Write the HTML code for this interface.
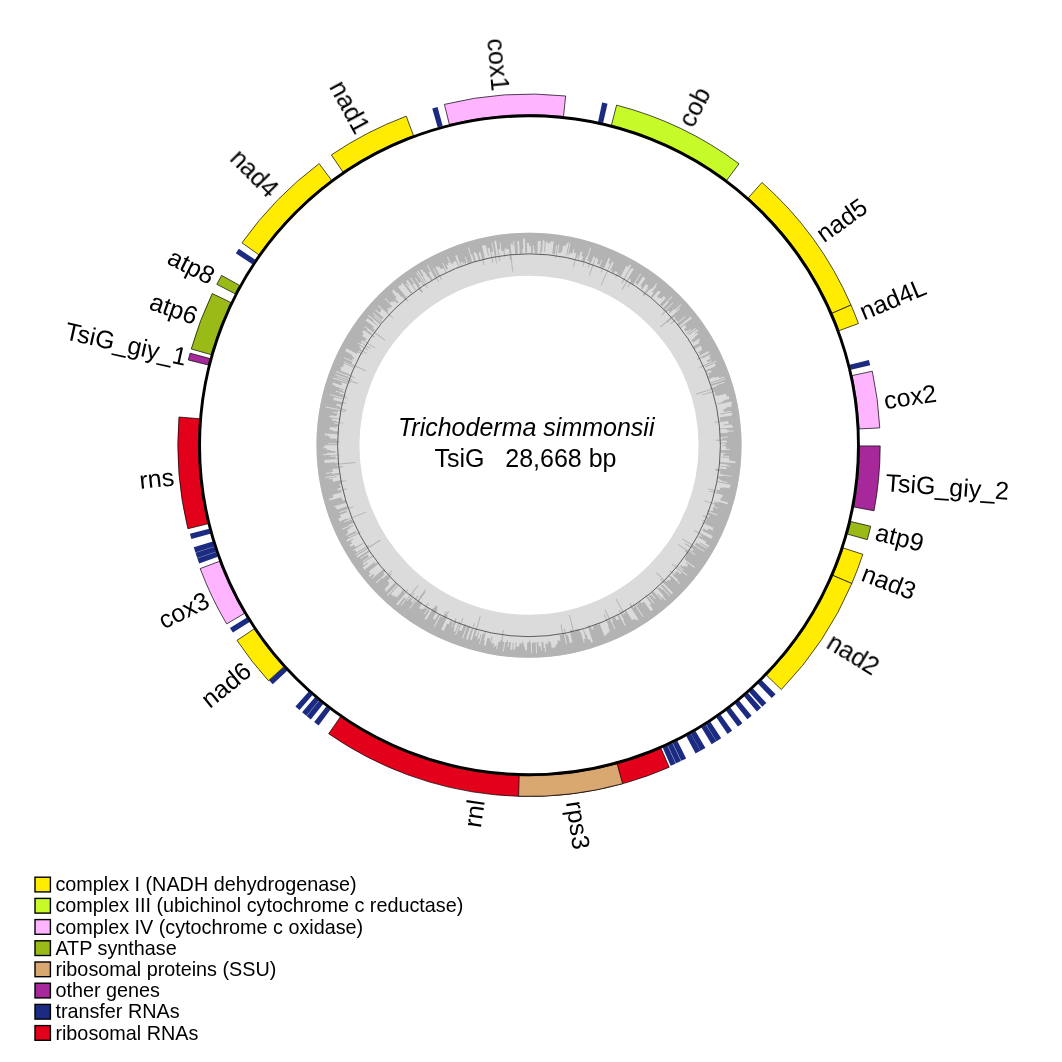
<!DOCTYPE html>
<html><head><meta charset="utf-8"><title>TsiG</title>
<style>html,body{margin:0;padding:0;background:#fff}svg{display:block}text{font-family:"Liberation Sans",sans-serif;fill:#000}</style></head>
<body>
<svg width="1062" height="1062" viewBox="0 0 1062 1062">
<rect width="1062" height="1062" fill="#fff"/>
<circle cx="529.0" cy="445.25" r="191.05" fill="none" stroke="#dbdbdb" stroke-width="42.90"/>
<path fill="#b3b3b3" fill-rule="evenodd" d="M529.00 232.75A212.5 212.5 0 1 1 529.00 657.75A212.5 212.5 0 1 1 529.00 232.75ZM529.0 246.1L529.0 246.1L530.0 246.1L530.0 246.1L530.9 246.1L530.9 252.9L531.8 252.9L531.8 252.8L532.7 252.9L532.9 245.6L533.8 245.6L533.7 250.3L534.7 250.4L534.6 253.3L535.5 253.3L535.5 253.3L536.4 253.3L536.4 253.3L537.4 253.4L537.9 241.0L538.9 241.0L538.9 241.0L539.9 241.1L539.9 241.1L540.9 241.1L540.1 254.2L541.0 254.2L541.2 252.1L542.1 252.1L542.9 239.7L543.9 239.8L543.8 241.2L544.8 241.2L544.0 252.1L544.9 252.2L545.8 241.7L546.7 241.8L546.7 242.0L547.7 242.1L547.5 243.8L548.5 243.9L548.6 242.7L549.6 242.8L549.6 242.8L550.6 242.9L550.8 241.2L551.8 241.3L551.8 241.3L552.8 241.4L552.8 241.4L553.7 241.5L552.2 254.0L553.1 254.1L553.1 254.1L554.1 254.2L554.0 254.4L555.0 254.5L556.2 245.3L557.2 245.4L555.4 257.9L556.3 258.1L558.3 244.4L559.3 244.5L558.1 252.6L559.0 252.7L559.0 252.7L560.0 252.8L560.0 252.8L560.9 253.0L561.1 251.9L562.0 252.1L563.1 245.5L564.1 245.7L564.1 245.7L565.0 245.8L565.0 245.8L566.0 246.0L566.5 243.4L567.5 243.6L567.8 241.8L568.8 241.9L566.2 255.3L567.1 255.5L569.6 242.9L570.6 243.1L568.2 254.6L569.2 254.8L569.6 252.8L570.5 253.0L570.5 253.0L571.4 253.2L571.4 253.2L572.4 253.4L573.3 249.1L574.3 249.3L573.6 252.5L574.5 252.7L574.5 252.7L575.4 252.9L575.4 252.9L576.4 253.1L573.0 266.7L573.9 266.9L576.1 257.9L577.1 258.1L577.9 255.0L578.8 255.2L577.8 258.9L578.7 259.1L580.7 251.6L581.7 251.9L581.7 251.9L582.6 252.1L581.5 256.1L582.4 256.4L582.4 256.4L583.3 256.6L581.9 261.4L582.8 261.7L582.8 261.7L583.7 262.0L582.4 266.4L583.2 266.6L586.4 256.2L587.3 256.4L590.1 247.6L591.0 247.9L587.0 260.7L587.9 261.0L588.0 260.6L588.9 260.9L588.6 261.9L589.5 262.1L587.8 267.1L588.7 267.4L590.5 262.1L591.3 262.4L593.3 256.6L594.3 256.9L594.3 256.9L595.2 257.2L588.8 275.2L589.7 275.4L596.1 257.3L597.1 257.7L596.7 258.7L597.6 259.0L597.6 259.0L598.5 259.4L596.9 263.7L597.7 264.0L597.7 264.0L598.6 264.4L598.6 264.4L599.5 264.7L601.4 259.7L602.3 260.1L599.8 266.4L600.7 266.7L600.7 266.7L601.5 267.1L601.5 267.1L602.4 267.4L600.4 272.2L601.3 272.6L603.4 267.4L604.3 267.7L608.5 257.9L609.4 258.3L609.4 258.3L610.3 258.7L608.4 263.1L609.2 263.5L609.2 263.5L610.1 263.9L600.8 284.7L601.6 285.0L612.1 261.8L613.0 262.2L613.0 262.2L613.9 262.6L610.1 270.8L610.9 271.2L611.5 269.9L612.4 270.3L611.5 272.0L612.4 272.4L612.4 272.4L613.2 272.8L613.2 272.8L614.0 273.2L615.1 271.1L615.9 271.5L615.9 271.5L616.8 271.9L616.8 271.9L617.6 272.4L615.2 277.1L616.0 277.6L618.0 273.7L618.8 274.2L618.3 275.2L619.1 275.6L619.1 275.6L619.9 276.0L619.9 276.0L620.7 276.5L626.3 266.1L627.2 266.6L627.2 266.6L628.1 267.1L629.5 264.6L630.3 265.1L630.3 265.1L631.2 265.6L621.3 282.9L622.1 283.4L630.7 268.5L631.5 269.0L632.0 268.1L632.9 268.6L632.9 268.6L633.7 269.1L621.6 289.6L622.3 290.0L629.1 278.8L629.9 279.3L629.9 279.3L630.7 279.8L630.3 280.4L631.1 280.9L627.5 286.7L628.2 287.2L630.8 283.1L631.6 283.6L631.6 283.6L632.4 284.1L632.4 284.1L633.2 284.6L640.4 273.4L641.2 273.9L635.2 283.1L636.0 283.6L636.0 283.6L636.8 284.1L636.8 284.1L637.6 284.7L643.0 276.6L643.8 277.2L643.8 277.2L644.6 277.8L644.6 277.8L645.4 278.3L640.4 285.6L641.1 286.1L641.1 286.1L641.9 286.6L641.0 287.9L641.8 288.4L641.2 289.2L642.0 289.8L646.1 284.0L646.9 284.6L646.9 284.6L647.7 285.2L647.7 285.2L648.5 285.7L647.2 287.4L648.0 287.9L642.8 294.8L643.5 295.4L643.3 295.7L644.0 296.3L649.3 289.4L650.0 290.0L651.3 288.3L652.1 288.9L656.5 283.3L657.3 284.0L655.5 286.1L656.3 286.7L652.1 291.9L652.9 292.5L652.9 292.5L653.6 293.1L650.8 296.5L651.6 297.1L651.2 297.6L651.9 298.2L658.4 290.4L659.1 291.0L659.1 291.0L659.9 291.6L659.9 291.6L660.6 292.3L657.0 296.5L657.7 297.1L657.4 297.4L658.1 298.1L659.0 297.1L659.7 297.7L659.7 297.7L660.4 298.3L660.4 298.3L661.1 299.0L663.7 296.1L664.4 296.8L664.4 296.8L665.2 297.4L665.2 297.4L665.9 298.1L659.9 304.5L660.6 305.1L660.6 305.1L661.3 305.7L661.3 305.7L662.0 306.4L671.7 296.2L672.4 296.9L667.8 301.7L668.5 302.4L663.1 307.9L663.7 308.5L663.7 308.5L664.4 309.2L663.0 310.6L663.7 311.2L672.6 302.4L673.3 303.1L661.3 314.8L661.9 315.5L665.8 311.7L666.4 312.4L668.4 310.4L669.1 311.1L669.1 311.1L669.7 311.8L668.8 312.7L669.4 313.4L674.0 309.1L674.6 309.8L680.7 304.2L681.4 304.9L676.1 309.8L676.7 310.5L679.4 308.0L680.1 308.8L660.1 326.8L660.7 327.5L666.5 322.3L667.0 323.0L674.0 316.8L674.7 317.5L674.7 317.5L675.3 318.2L675.1 318.3L675.7 319.0L670.4 323.6L671.0 324.3L676.3 319.8L676.9 320.5L676.9 320.5L677.5 321.2L677.5 321.2L678.1 321.9L684.8 316.3L685.5 317.1L677.4 323.6L678.0 324.4L677.5 324.8L678.1 325.5L678.1 325.5L678.6 326.3L690.8 316.6L691.4 317.4L691.4 317.4L692.0 318.2L679.9 327.6L680.5 328.3L684.7 325.1L685.3 325.8L685.3 325.8L685.8 326.6L685.8 326.6L686.4 327.4L683.9 329.2L684.5 330.0L684.5 330.0L685.1 330.7L684.8 330.9L685.4 331.6L687.1 330.4L687.6 331.2L690.5 329.1L691.1 329.8L686.4 333.2L686.9 334.0L695.2 328.1L695.8 328.9L688.4 334.1L688.9 334.9L697.1 329.2L697.6 330.1L697.8 329.9L698.4 330.7L694.9 333.1L695.4 333.9L697.1 332.8L697.6 333.6L697.6 333.6L698.1 334.4L694.6 336.8L695.1 337.6L691.5 339.9L692.0 340.7L692.0 340.7L692.5 341.5L692.3 341.6L692.8 342.4L699.3 338.4L699.8 339.2L699.8 339.2L700.3 340.0L698.2 341.3L698.7 342.1L699.2 341.8L699.6 342.7L692.8 346.8L693.3 347.6L693.3 347.6L693.7 348.4L693.7 348.4L694.2 349.2L700.7 345.4L701.1 346.2L701.1 346.2L701.6 347.1L701.6 347.1L702.1 347.9L701.5 348.2L701.9 349.1L701.3 349.4L701.8 350.3L697.6 352.5L698.1 353.4L699.1 352.8L699.6 353.6L699.7 353.5L700.2 354.3L698.7 355.1L699.2 355.9L708.4 351.1L708.8 352.0L708.8 352.0L709.3 352.8L697.0 359.1L697.4 360.0L702.1 357.6L702.5 358.4L710.2 354.5L710.7 355.4L709.1 356.2L709.5 357.1L709.5 357.1L709.9 358.0L710.4 357.7L710.9 358.6L706.8 360.5L707.2 361.4L707.2 361.4L707.6 362.2L711.6 360.4L712.0 361.3L699.2 367.2L699.6 368.0L716.3 360.4L716.8 361.3L705.0 366.5L705.4 367.4L715.0 363.2L715.4 364.1L715.4 364.1L715.8 365.0L715.0 365.3L715.3 366.2L705.4 370.4L705.7 371.3L705.7 371.3L706.1 372.1L710.9 370.2L711.2 371.0L711.2 371.0L711.6 371.9L706.9 373.8L707.3 374.7L708.6 374.2L708.9 375.0L708.9 375.0L709.2 375.9L708.0 376.4L708.3 377.3L708.3 377.3L708.6 378.1L708.6 378.1L708.9 379.0L714.5 376.9L714.9 377.8L718.7 376.4L719.0 377.4L719.0 377.4L719.3 378.3L724.0 376.6L724.4 377.6L710.2 382.5L710.5 383.4L725.1 378.4L725.5 379.3L711.0 384.2L711.3 385.1L711.3 385.1L711.5 385.9L724.2 381.8L724.5 382.8L716.8 385.2L717.1 386.1L710.0 388.4L710.3 389.2L696.2 393.6L696.4 394.4L713.3 389.3L713.5 390.2L713.5 390.2L713.8 391.1L702.2 394.5L702.5 395.3L714.7 391.8L715.0 392.7L715.0 392.7L715.2 393.6L715.2 393.6L715.5 394.5L714.5 394.8L714.7 395.7L716.6 395.1L716.8 396.1L726.0 393.7L726.3 394.6L726.3 394.6L726.5 395.6L726.5 395.6L726.7 396.5L728.7 396.0L728.9 397.0L728.9 397.0L729.1 398.0L729.1 398.0L729.4 398.9L723.8 400.2L724.0 401.2L721.4 401.7L721.6 402.7L717.3 403.6L717.5 404.5L731.6 401.5L731.9 402.5L731.9 402.5L732.1 403.5L731.2 403.6L731.4 404.6L731.4 404.6L731.6 405.6L731.6 405.6L731.8 406.6L726.2 407.6L726.4 408.6L723.3 409.2L723.5 410.1L723.5 410.1L723.7 411.0L723.7 411.0L723.8 412.0L730.8 410.8L731.0 411.8L720.1 413.6L720.3 414.5L731.7 412.6L731.8 413.6L731.8 413.6L732.0 414.6L732.0 414.6L732.1 415.6L720.1 417.3L720.2 418.3L719.9 418.3L720.0 419.2L720.0 419.2L720.2 420.2L720.2 420.2L720.3 421.1L714.1 421.9L714.2 422.8L728.3 421.1L728.4 422.0L728.4 422.0L728.5 423.0L728.5 423.0L728.6 423.9L723.5 424.5L723.6 425.4L732.0 424.6L732.1 425.6L732.1 425.6L732.2 426.5L733.4 426.4L733.5 427.4L718.4 428.7L718.5 429.6L726.3 429.0L726.4 430.0L728.7 429.8L728.7 430.7L733.6 430.4L733.7 431.4L727.6 431.8L727.7 432.8L719.9 433.2L719.9 434.2L719.9 434.2L720.0 435.1L720.0 435.1L720.0 436.0L720.0 436.0L720.1 436.9L728.0 436.6L728.1 437.5L721.8 437.8L721.8 438.7L722.0 438.7L722.1 439.6L715.8 439.8L715.9 440.7L726.5 440.5L726.5 441.4L727.0 441.4L727.0 442.4L720.1 442.5L720.1 443.4L725.2 443.4L725.2 444.3L725.2 444.3L725.2 445.2L722.1 445.2L722.1 446.2L726.3 446.2L726.3 447.2L726.3 447.2L726.3 448.1L726.3 448.1L726.3 449.1L730.0 449.1L730.0 450.1L720.8 449.9L720.8 450.8L720.8 450.8L720.7 451.7L720.7 451.7L720.7 452.7L725.3 452.8L725.3 453.8L723.2 453.7L723.1 454.6L723.1 454.6L723.1 455.6L729.0 455.9L729.0 456.9L722.1 456.5L722.1 457.4L729.1 457.8L729.1 458.8L729.1 458.8L729.0 459.8L730.3 459.9L730.2 460.8L735.4 461.2L735.3 462.2L735.3 462.2L735.3 463.2L719.5 461.9L719.4 462.8L719.4 462.8L719.3 463.7L727.4 464.5L727.3 465.4L730.2 465.7L730.1 466.7L720.3 465.7L720.2 466.6L726.5 467.3L726.4 468.2L726.4 468.2L726.3 469.2L720.6 468.5L720.5 469.4L715.0 468.7L714.9 469.6L715.7 469.8L715.6 470.7L720.4 471.3L720.3 472.2L720.3 472.2L720.1 473.2L720.1 473.2L720.0 474.1L731.8 475.9L731.7 476.8L722.6 475.4L722.4 476.4L718.5 475.7L718.4 476.7L718.4 476.7L718.2 477.6L718.2 477.6L718.1 478.5L719.9 478.8L719.7 479.7L721.7 480.1L721.6 481.0L727.6 482.1L727.4 483.1L716.7 481.1L716.5 482.0L730.8 484.8L730.6 485.7L730.2 485.6L730.0 486.6L730.0 486.6L729.8 487.6L729.8 487.6L729.6 488.6L723.4 487.2L723.2 488.2L720.3 487.5L720.1 488.5L720.1 488.5L719.9 489.4L719.9 489.4L719.7 490.3L716.6 489.6L716.4 490.5L707.9 488.4L707.7 489.3L717.1 491.6L716.9 492.5L709.6 490.7L709.4 491.6L722.8 495.0L722.6 496.0L722.6 496.0L722.3 496.9L722.3 496.9L722.1 497.8L721.0 497.5L720.7 498.4L720.7 498.4L720.4 499.4L720.4 499.4L720.2 500.3L728.0 502.5L727.7 503.5L727.7 503.5L727.5 504.5L718.5 501.8L718.2 502.7L714.5 501.6L714.2 502.5L714.5 502.6L714.2 503.5L703.8 500.2L703.6 501.0L714.7 504.6L714.5 505.5L714.5 505.5L714.2 506.4L718.7 507.9L718.4 508.8L713.3 507.1L713.0 508.0L713.1 508.0L712.8 508.9L713.3 509.1L713.0 510.0L713.0 510.0L712.7 510.9L711.5 510.5L711.2 511.3L707.1 509.9L706.8 510.7L717.5 514.6L717.1 515.6L708.0 512.2L707.7 513.0L707.7 513.0L707.4 513.9L708.0 514.1L707.7 515.0L709.6 515.7L709.3 516.6L709.3 516.6L708.9 517.5L703.0 515.1L702.7 516.0L705.6 517.1L705.2 518.0L706.9 518.7L706.6 519.6L706.6 519.6L706.2 520.4L706.2 520.4L705.9 521.3L702.4 519.8L702.1 520.6L705.6 522.2L705.2 523.0L702.7 521.9L702.3 522.7L713.4 527.7L713.0 528.6L713.0 528.6L712.6 529.5L713.4 529.9L713.0 530.8L708.4 528.6L708.0 529.5L708.0 529.5L707.6 530.4L703.5 528.4L703.1 529.2L703.1 529.2L702.7 530.1L703.1 530.3L702.6 531.1L712.7 536.1L712.3 537.0L712.3 537.0L711.9 537.9L711.9 537.9L711.4 538.7L694.2 529.9L693.8 530.7L700.9 534.4L700.5 535.2L702.3 536.2L701.8 537.0L699.2 535.6L698.7 536.4L698.7 536.4L698.3 537.3L706.4 541.7L705.9 542.5L705.9 542.5L705.5 543.4L709.4 545.6L708.9 546.5L708.9 546.5L708.5 547.3L699.9 542.4L699.4 543.3L707.5 547.9L707.0 548.8L696.2 542.5L695.7 543.3L695.7 543.3L695.3 544.1L695.3 544.1L694.8 544.9L704.7 550.9L704.2 551.7L682.7 538.7L682.2 539.4L692.2 545.5L691.7 546.3L691.7 546.3L691.2 547.1L685.2 543.3L684.7 544.1L693.7 549.7L693.1 550.5L693.1 550.5L692.6 551.3L688.9 548.9L688.4 549.7L695.8 554.5L695.2 555.3L678.2 544.1L677.8 544.8L686.0 550.3L685.5 551.0L685.1 550.8L684.6 551.6L687.2 553.3L686.7 554.1L686.7 554.1L686.2 554.9L686.2 554.9L685.7 555.6L686.1 555.9L685.5 556.7L685.5 556.7L685.0 557.4L685.5 557.8L685.0 558.6L685.3 558.8L684.7 559.5L695.0 567.1L694.4 567.9L686.4 561.9L685.8 562.7L688.1 564.4L687.6 565.2L687.6 565.2L687.0 566.0L687.7 566.5L687.1 567.3L684.7 565.4L684.1 566.2L684.1 566.2L683.5 566.9L681.0 564.9L680.4 565.6L680.4 565.6L679.8 566.4L683.6 569.4L683.0 570.2L675.9 564.4L675.3 565.1L687.4 575.0L686.8 575.8L672.0 563.6L671.5 564.3L681.6 572.8L681.0 573.5L681.0 573.5L680.4 574.2L676.6 571.0L676.0 571.7L676.0 571.7L675.4 572.4L675.4 572.4L674.7 573.1L675.6 573.9L675.0 574.6L670.0 570.2L669.4 570.9L673.5 574.5L672.8 575.2L678.0 579.8L677.3 580.5L680.2 583.2L679.5 583.9L671.0 576.0L670.4 576.7L668.3 574.8L667.7 575.5L671.2 578.8L670.6 579.5L670.6 579.5L669.9 580.2L669.9 580.2L669.3 580.9L668.1 579.8L667.5 580.4L667.5 580.4L666.8 581.1L666.8 581.1L666.2 581.8L656.7 572.3L656.1 572.9L663.9 580.8L663.2 581.4L660.7 578.8L660.0 579.5L673.0 592.8L672.3 593.5L672.3 593.5L671.6 594.2L662.3 584.5L661.6 585.1L661.6 585.1L660.9 585.7L670.0 595.4L669.3 596.1L663.1 589.4L662.4 590.1L659.9 587.3L659.2 588.0L659.2 588.0L658.5 588.6L656.7 586.7L656.1 587.3L663.6 595.7L662.9 596.3L665.9 599.8L665.2 600.5L662.7 597.7L662.0 598.3L657.9 593.6L657.1 594.2L662.1 600.0L661.4 600.6L653.6 591.5L652.9 592.1L652.6 591.8L651.9 592.3L651.9 592.3L651.2 592.9L655.8 598.6L655.1 599.2L651.6 595.0L650.9 595.5L650.3 594.8L649.6 595.4L649.3 595.0L648.5 595.6L654.5 603.1L653.8 603.7L648.0 596.4L647.3 597.0L645.9 595.2L645.1 595.7L651.3 603.7L650.5 604.3L650.5 604.3L649.7 604.8L653.2 609.5L652.4 610.1L652.4 610.1L651.6 610.7L651.6 610.7L650.8 611.3L643.9 601.8L643.1 602.3L643.1 602.3L642.4 602.9L642.4 602.9L641.6 603.4L640.1 601.3L639.4 601.9L639.4 601.9L638.6 602.4L638.6 602.4L637.8 602.9L638.6 604.0L637.8 604.5L637.8 604.5L637.0 605.0L636.1 603.7L635.4 604.2L643.7 616.7L642.9 617.3L633.7 603.4L633.0 603.9L634.5 606.2L633.7 606.7L634.2 607.5L633.4 608.0L630.1 602.9L629.3 603.4L630.8 605.6L630.0 606.1L638.8 620.1L638.0 620.7L637.0 619.2L636.2 619.7L636.2 619.7L635.3 620.2L634.5 618.8L633.7 619.3L633.7 619.3L632.8 619.8L632.8 619.8L632.0 620.3L625.8 609.9L625.0 610.4L625.0 610.4L624.2 610.8L625.7 613.3L624.9 613.8L616.3 598.8L615.6 599.2L624.2 614.5L623.3 614.9L621.5 611.5L620.7 612.0L619.5 609.8L618.7 610.3L624.2 620.4L623.3 620.8L625.8 625.4L624.9 625.9L619.1 614.9L618.3 615.3L618.3 615.3L617.4 615.8L619.2 619.1L618.3 619.5L618.3 619.5L617.5 619.9L617.5 619.9L616.6 620.3L614.9 616.8L614.0 617.2L614.0 617.2L613.2 617.6L613.5 618.3L612.7 618.7L612.2 617.7L611.4 618.1L613.0 621.6L612.2 622.0L615.6 629.2L614.7 629.6L605.2 609.1L604.4 609.5L609.2 620.0L608.3 620.4L608.3 620.4L607.5 620.8L604.5 614.0L603.7 614.4L608.7 625.9L607.9 626.3L609.9 631.0L609.0 631.4L609.4 632.2L608.5 632.6L608.5 632.6L607.6 633.0L607.6 633.0L606.7 633.4L607.2 634.8L606.3 635.1L606.3 635.1L605.4 635.5L605.4 635.5L604.5 635.9L599.3 622.8L598.4 623.1L599.0 624.5L598.1 624.8L598.1 624.8L597.2 625.1L596.7 623.7L595.8 624.0L595.8 624.0L594.9 624.3L594.9 624.3L594.1 624.7L594.5 625.7L593.6 626.0L593.6 626.0L592.7 626.3L593.7 629.1L592.8 629.5L592.8 629.5L591.9 629.8L590.8 626.6L590.0 626.9L589.4 625.2L588.5 625.5L588.5 625.5L587.7 625.8L592.9 642.0L592.0 642.3L592.0 642.3L591.0 642.6L590.0 639.2L589.0 639.5L589.0 639.5L588.1 639.8L586.4 634.4L585.5 634.7L584.0 629.7L583.1 629.9L585.7 638.7L584.8 639.0L584.8 639.0L583.8 639.2L584.7 642.4L583.8 642.7L580.9 632.2L580.0 632.4L579.1 629.1L578.2 629.4L578.2 629.4L577.3 629.6L577.3 629.6L576.4 629.8L576.2 629.1L575.3 629.3L575.8 631.3L574.9 631.5L574.9 631.5L574.0 631.7L570.0 615.0L569.1 615.2L572.6 630.0L571.8 630.2L571.7 630.1L570.8 630.3L570.8 630.3L569.9 630.5L572.5 642.3L571.6 642.5L571.6 642.5L570.6 642.7L570.6 642.7L569.7 642.9L568.0 634.9L567.1 635.1L567.1 635.1L566.2 635.3L564.9 628.6L564.0 628.8L567.0 644.2L566.0 644.4L563.8 632.7L562.9 632.8L561.4 624.3L560.5 624.4L562.3 634.6L561.4 634.7L561.4 634.7L560.4 634.9L560.4 634.9L559.5 635.0L560.5 641.0L559.5 641.1L559.4 640.2L558.5 640.4L558.5 640.4L557.5 640.5L557.9 643.2L556.9 643.3L557.2 645.0L556.2 645.1L556.2 645.1L555.3 645.3L555.5 647.5L554.6 647.6L554.5 647.5L553.6 647.6L553.6 647.6L552.6 647.7L552.6 647.7L551.6 647.8L551.0 642.4L550.1 642.5L549.9 641.2L549.0 641.3L549.0 641.3L548.0 641.4L548.3 643.9L547.3 644.0L547.3 644.0L546.3 644.1L546.3 643.1L545.3 643.2L546.0 652.2L545.0 652.2L544.7 647.9L543.7 648.0L543.3 642.0L542.3 642.1L542.3 641.6L541.4 641.6L541.9 650.3L540.9 650.3L540.7 646.3L539.7 646.4L539.7 646.4L538.7 646.4L538.5 642.3L537.6 642.4L537.6 642.1L536.6 642.1L537.0 652.9L536.0 652.9L535.7 642.3L534.7 642.4L534.7 642.4L533.8 642.4L533.8 642.4L532.8 642.4L532.8 643.0L531.9 643.0L532.0 652.9L531.0 653.0L530.9 642.3L530.0 642.3L529.9 640.7L529.0 640.7L529.0 642.6L528.0 642.6L528.0 642.7L527.1 642.7L527.0 650.2L526.0 650.2L526.0 650.2L525.0 650.2L525.1 647.0L524.1 647.0L524.2 644.5L523.2 644.5L523.3 641.6L522.4 641.6L522.3 643.4L521.3 643.4L521.3 643.4L520.4 643.3L520.4 643.3L519.4 643.3L519.3 646.7L518.3 646.6L518.3 646.6L517.3 646.6L517.3 646.6L516.3 646.5L516.6 642.7L515.6 642.6L515.2 649.5L514.2 649.4L514.2 649.4L513.2 649.3L513.7 642.8L512.7 642.7L512.2 649.7L511.2 649.7L511.2 649.7L510.2 649.6L510.9 642.3L509.9 642.2L509.9 642.2L508.9 642.1L508.5 647.0L507.5 646.9L508.2 639.8L507.3 639.7L507.0 642.2L506.1 642.1L506.1 642.1L505.1 642.0L503.9 651.6L502.9 651.5L504.2 641.8L503.2 641.7L503.2 641.7L502.3 641.6L503.8 630.2L502.9 630.1L501.5 640.1L500.6 640.0L500.3 642.1L499.3 641.9L499.3 641.9L498.4 641.8L497.2 649.2L496.2 649.0L496.8 645.6L495.8 645.4L495.8 645.7L494.8 645.6L494.5 647.3L493.5 647.2L494.2 643.5L493.2 643.3L493.2 643.6L492.2 643.4L492.2 643.4L491.2 643.2L492.5 636.7L491.6 636.5L490.6 641.5L489.6 641.3L490.2 638.7L489.2 638.5L489.2 638.5L488.3 638.3L488.3 638.3L487.4 638.1L485.7 645.6L484.8 645.4L484.8 645.4L483.8 645.2L484.8 640.8L483.9 640.6L486.1 631.0L485.2 630.8L484.4 634.1L483.5 633.8L483.5 633.8L482.6 633.6L479.9 644.3L479.0 644.1L481.4 634.4L480.5 634.2L479.3 638.7L478.4 638.5L478.1 639.6L477.2 639.4L479.3 631.5L478.4 631.2L476.9 636.4L476.0 636.2L476.0 636.2L475.1 635.9L480.8 615.9L479.9 615.7L476.2 628.6L475.3 628.3L471.9 640.0L471.0 639.8L471.0 639.8L470.0 639.5L474.9 623.6L474.0 623.3L472.1 629.6L471.2 629.3L467.9 639.8L466.9 639.5L466.9 639.5L466.0 639.2L470.4 625.5L469.6 625.2L468.9 627.3L468.0 627.0L468.1 626.6L467.3 626.3L463.1 638.5L462.1 638.2L466.7 625.0L465.9 624.7L465.9 624.7L465.0 624.4L465.0 624.4L464.1 624.1L461.6 631.1L460.7 630.8L460.7 630.8L459.8 630.5L459.8 630.5L458.9 630.2L463.5 618.0L462.7 617.7L456.0 635.0L455.1 634.7L460.1 621.8L459.2 621.5L455.1 631.8L454.2 631.4L454.2 631.4L453.4 631.1L454.6 627.9L453.7 627.6L456.5 620.9L455.7 620.5L456.5 618.5L455.7 618.1L451.9 627.1L451.0 626.7L453.0 622.1L452.1 621.8L452.1 621.8L451.2 621.4L451.6 620.7L450.7 620.3L448.8 624.5L448.0 624.1L448.0 624.1L447.1 623.7L443.9 630.8L443.0 630.4L443.0 630.4L442.1 630.0L442.1 630.0L441.2 629.5L447.7 615.8L446.9 615.4L449.0 611.2L448.2 610.8L446.3 614.6L445.5 614.2L446.7 611.7L445.9 611.3L442.8 617.4L442.0 617.0L442.0 617.0L441.2 616.6L441.2 616.6L440.4 616.2L434.6 627.2L433.7 626.8L439.8 615.1L439.0 614.7L439.0 614.7L438.2 614.2L435.2 619.8L434.4 619.4L434.4 619.4L433.5 618.9L433.5 618.9L432.7 618.5L437.5 609.8L436.7 609.4L437.9 607.3L437.1 606.8L437.3 606.5L436.5 606.1L436.8 605.5L436.0 605.1L434.4 607.9L433.6 607.4L426.2 620.1L425.3 619.6L425.3 619.6L424.5 619.1L429.4 610.9L428.6 610.5L429.4 609.2L428.6 608.7L424.9 614.6L424.1 614.1L428.2 607.5L427.4 607.0L426.1 609.1L425.3 608.6L429.0 602.8L428.2 602.4L423.8 609.2L423.0 608.7L423.0 608.7L422.3 608.2L421.4 609.6L420.6 609.0L420.6 609.0L419.8 608.5L419.8 608.5L419.0 608.0L422.3 603.1L421.5 602.6L421.5 602.6L420.7 602.1L420.7 602.2L419.9 601.6L419.9 601.6L419.2 601.1L425.5 592.1L424.8 591.6L426.1 589.8L425.4 589.3L416.2 602.1L415.4 601.6L410.2 608.8L409.4 608.2L418.2 596.2L417.5 595.6L412.4 602.5L411.7 601.9L411.7 601.9L410.9 601.3L413.6 597.7L412.9 597.2L411.4 599.2L410.6 598.6L414.7 593.3L414.0 592.7L407.6 600.9L406.9 600.3L418.8 585.2L418.1 584.7L401.4 605.7L400.7 605.0L406.0 598.4L405.2 597.8L405.2 597.8L404.5 597.2L397.8 605.4L397.0 604.8L397.0 604.8L396.3 604.1L408.5 589.5L407.8 588.9L404.5 592.8L403.8 592.2L405.0 590.8L404.3 590.2L404.3 590.2L403.6 589.6L396.8 597.5L396.0 596.8L396.0 596.8L395.3 596.2L395.3 596.2L394.6 595.5L393.7 596.4L393.0 595.8L393.0 595.8L392.3 595.1L392.2 595.2L391.5 594.6L391.5 594.6L390.7 593.9L398.3 585.8L397.6 585.2L387.6 595.9L386.8 595.2L397.1 584.3L396.5 583.7L396.5 583.7L395.8 583.0L395.8 583.0L395.1 582.4L386.0 591.7L385.3 591.0L385.3 591.0L384.6 590.3L385.6 589.3L384.9 588.6L389.0 584.5L388.4 583.9L389.3 582.9L388.7 582.2L388.7 582.2L388.0 581.6L388.0 581.6L387.3 580.9L390.1 578.2L389.5 577.5L390.0 577.0L389.4 576.4L391.6 574.3L391.0 573.6L387.8 576.5L387.2 575.8L392.4 571.1L391.8 570.4L383.1 578.4L382.4 577.7L376.3 583.2L375.6 582.5L384.5 574.5L383.9 573.8L383.9 573.8L383.3 573.1L385.4 571.3L384.7 570.6L385.5 569.9L384.9 569.2L383.6 570.3L383.0 569.6L372.2 578.8L371.6 578.1L374.5 575.6L373.9 574.9L373.9 574.9L373.2 574.1L369.7 577.0L369.1 576.2L369.1 576.2L368.5 575.5L370.6 573.8L369.9 573.0L369.9 573.0L369.3 572.2L369.3 572.2L368.7 571.4L378.9 563.5L378.3 562.7L378.3 562.7L377.7 562.0L375.5 563.7L375.0 562.9L375.0 562.9L374.4 562.2L364.1 570.0L363.5 569.2L364.0 568.8L363.4 568.0L363.4 568.0L362.8 567.2L368.0 563.4L367.4 562.6L363.8 565.2L363.3 564.4L363.3 564.4L362.7 563.6L372.9 556.4L372.4 555.6L363.2 562.0L362.7 561.2L368.9 556.9L368.3 556.1L368.3 556.1L367.8 555.4L367.8 555.4L367.3 554.6L360.6 559.1L360.1 558.3L370.2 551.5L369.7 550.7L369.7 550.7L369.2 550.0L357.6 557.6L357.0 556.7L357.0 556.7L356.5 555.9L380.7 540.4L380.3 539.6L355.8 555.1L355.3 554.3L369.1 545.7L368.6 544.9L356.6 552.3L356.1 551.5L356.1 551.5L355.6 550.7L355.6 550.7L355.0 549.8L353.1 551.0L352.6 550.2L363.4 543.7L362.9 542.9L355.8 547.1L355.3 546.3L354.9 546.5L354.4 545.7L354.4 545.7L353.9 544.9L350.5 546.8L350.0 545.9L350.0 545.9L349.5 545.0L352.1 543.6L351.7 542.7L351.7 542.7L351.2 541.9L351.2 541.9L350.7 541.0L353.2 539.7L352.7 538.8L347.2 541.8L346.7 540.9L346.7 540.9L346.2 540.0L360.7 532.5L360.3 531.7L348.9 537.6L348.4 536.7L356.7 532.5L356.3 531.7L356.3 531.7L355.9 530.9L346.1 535.7L345.7 534.8L347.7 533.8L347.3 532.9L348.1 532.5L347.7 531.6L347.7 531.6L347.3 530.8L347.3 530.8L346.9 529.9L350.2 528.3L349.8 527.5L353.3 525.9L352.9 525.0L342.5 529.7L342.1 528.8L349.3 525.6L348.9 524.8L354.3 522.4L353.9 521.5L352.9 522.0L352.6 521.1L352.6 521.1L352.2 520.2L352.1 520.3L351.7 519.4L344.5 522.4L344.2 521.6L366.5 512.3L366.2 511.5L346.9 519.4L346.6 518.5L339.5 521.4L339.1 520.4L339.1 520.4L338.7 519.5L338.7 519.5L338.4 518.6L341.0 517.6L340.7 516.7L340.7 516.7L340.3 515.8L340.3 515.8L340.0 514.8L347.2 512.2L346.8 511.3L347.0 511.3L346.6 510.4L339.7 512.9L339.4 512.0L353.5 507.0L353.2 506.2L347.4 508.2L347.1 507.3L348.1 506.9L347.8 506.1L336.8 509.7L336.5 508.8L336.5 508.8L336.2 507.9L336.2 507.9L335.9 507.0L334.2 507.5L333.9 506.6L346.7 502.5L346.4 501.7L346.4 501.7L346.2 500.8L346.2 500.8L345.9 499.9L343.3 500.7L343.0 499.8L342.4 500.0L342.1 499.1L342.1 499.1L341.8 498.2L341.8 498.2L341.6 497.3L329.5 500.6L329.3 499.6L329.3 499.6L329.0 498.7L333.2 497.5L333.0 496.6L333.0 496.6L332.7 495.6L332.7 495.6L332.5 494.7L341.4 492.5L341.2 491.6L341.2 491.6L340.9 490.6L346.9 489.2L346.7 488.3L337.8 490.4L337.6 489.5L337.6 489.5L337.4 488.6L340.8 487.8L340.6 486.9L341.0 486.8L340.8 485.9L339.9 486.1L339.7 485.2L339.7 485.2L339.5 484.3L341.1 483.9L340.9 483.0L341.5 482.9L341.4 482.0L346.2 481.0L346.0 480.2L342.3 480.9L342.1 480.0L332.9 481.7L332.7 480.7L332.7 480.7L332.5 479.8L332.5 479.8L332.4 478.8L329.1 479.4L328.9 478.4L336.6 477.1L336.5 476.2L325.3 478.0L325.2 477.0L339.5 474.8L339.3 473.9L339.8 473.8L339.6 472.9L332.0 474.0L331.8 473.1L326.1 473.9L326.0 472.9L332.7 472.0L332.6 471.0L332.6 471.0L332.4 470.1L332.4 470.1L332.3 469.1L339.3 468.3L339.2 467.4L342.9 466.9L342.8 466.0L337.7 466.6L337.6 465.7L336.8 465.8L336.7 464.8L355.6 462.9L355.5 462.1L339.6 463.6L339.5 462.7L335.3 463.1L335.2 462.2L324.6 463.1L324.5 462.1L324.5 462.1L324.4 461.1L324.4 461.1L324.3 460.1L337.9 459.1L337.9 458.2L335.6 458.4L335.5 457.4L335.5 457.4L335.4 456.5L330.4 456.8L330.3 455.8L339.6 455.3L339.6 454.4L322.9 455.2L322.9 454.2L327.0 454.0L327.0 453.1L335.5 452.7L335.5 451.8L335.5 451.8L335.4 450.9L330.7 451.0L330.7 450.0L326.9 450.1L326.8 449.2L326.8 449.2L326.8 448.2L323.2 448.2L323.1 447.2L324.6 447.2L324.6 446.2L324.6 446.2L324.6 445.3L337.5 445.3L337.5 444.3L327.9 444.3L327.9 443.3L337.8 443.4L337.8 442.5L339.6 442.5L339.6 441.6L337.6 441.5L337.6 440.6L336.2 440.6L336.3 439.7L336.7 439.7L336.7 438.7L329.8 438.5L329.8 437.5L329.8 437.5L329.8 436.6L328.1 436.5L328.2 435.5L324.7 435.4L324.7 434.4L324.7 434.4L324.8 433.4L338.0 434.2L338.0 433.2L338.0 433.2L338.1 432.3L338.1 432.3L338.1 431.4L332.6 431.0L332.7 430.0L329.6 429.8L329.7 428.8L329.7 428.8L329.8 427.9L329.8 427.9L329.9 426.9L336.5 427.5L336.5 426.6L338.4 426.8L338.5 425.8L338.1 425.8L338.2 424.9L337.9 424.9L338.0 423.9L334.5 423.5L334.6 422.6L343.2 423.6L343.3 422.7L336.9 421.9L337.0 421.0L332.2 420.4L332.3 419.4L331.5 419.3L331.6 418.4L340.7 419.6L340.8 418.7L329.1 417.0L329.2 416.1L330.6 416.3L330.7 415.3L336.3 416.2L336.4 415.2L337.1 415.3L337.2 414.4L337.2 414.4L337.4 413.5L333.1 412.8L333.2 411.8L337.8 412.6L337.9 411.7L337.9 411.7L338.1 410.7L345.4 412.1L345.6 411.2L325.5 407.5L325.7 406.5L346.3 410.4L346.5 409.5L339.9 408.2L340.1 407.3L340.1 407.3L340.3 406.4L336.2 405.6L336.4 404.6L336.3 404.6L336.5 403.7L342.2 404.9L342.4 404.0L342.4 404.0L342.6 403.1L346.1 403.9L346.3 403.0L333.2 400.0L333.5 399.1L333.5 399.1L333.7 398.1L333.7 398.1L333.9 397.2L342.5 399.3L342.8 398.4L329.9 395.1L330.1 394.2L347.3 398.6L347.5 397.7L342.9 396.5L343.1 395.6L346.1 396.4L346.3 395.5L339.8 393.7L340.1 392.8L335.9 391.7L336.1 390.7L343.7 392.9L344.0 392.0L343.0 391.7L343.3 390.8L339.4 389.7L339.7 388.8L343.4 389.9L343.7 389.0L334.8 386.3L335.1 385.4L332.3 384.5L332.6 383.5L332.6 383.5L332.9 382.6L341.6 385.4L341.9 384.5L341.9 384.5L342.2 383.6L340.8 383.1L341.1 382.2L346.6 384.0L346.9 383.1L332.8 378.4L333.2 377.4L349.9 383.2L350.2 382.3L336.8 377.6L337.1 376.7L357.4 383.9L357.7 383.1L335.2 374.9L335.5 374.0L352.1 380.1L352.4 379.3L348.4 377.8L348.8 376.9L335.9 372.0L336.2 371.1L354.5 378.1L354.8 377.3L349.3 375.1L349.6 374.2L340.4 370.6L340.7 369.7L340.7 369.7L341.1 368.7L340.4 368.5L340.8 367.6L340.8 367.6L341.2 366.7L342.8 367.3L343.2 366.4L342.9 366.3L343.2 365.4L343.2 365.4L343.6 364.5L343.6 364.5L344.0 363.6L353.9 368.0L354.3 367.1L343.6 362.3L344.0 361.5L365.8 371.3L366.2 370.6L351.6 363.8L351.9 363.0L351.9 363.0L352.3 362.1L343.9 358.1L344.3 357.2L352.4 361.1L352.8 360.3L351.9 359.8L352.3 359.0L353.6 359.6L354.0 358.7L354.0 358.7L354.4 357.9L352.5 356.9L353.0 356.1L351.3 355.2L351.7 354.4L345.1 351.0L345.5 350.1L345.5 350.1L346.0 349.2L346.0 349.2L346.4 348.3L356.9 353.9L357.3 353.0L357.3 353.0L357.8 352.2L362.3 354.7L362.7 353.8L358.6 351.6L359.1 350.8L361.0 351.8L361.4 351.0L366.2 353.7L366.6 352.9L360.5 349.4L360.9 348.6L359.2 347.6L359.7 346.8L359.2 346.5L359.7 345.7L367.6 350.3L368.0 349.5L357.5 343.3L358.0 342.5L360.5 343.9L361.0 343.1L370.2 348.7L370.7 348.0L360.8 341.9L361.3 341.1L361.3 341.1L361.9 340.3L375.1 348.6L375.6 347.9L364.3 340.7L364.8 340.0L365.7 340.5L366.2 339.7L366.2 339.7L366.7 338.9L362.2 336.0L362.7 335.2L362.7 335.2L363.3 334.4L363.3 334.4L363.8 333.6L362.2 332.5L362.7 331.6L362.7 331.6L363.3 330.8L363.3 330.8L363.8 330.0L374.3 337.4L374.8 336.6L371.2 334.1L371.7 333.3L366.9 329.9L367.5 329.1L364.2 326.7L364.8 325.9L384.7 340.4L385.2 339.7L373.7 331.2L374.2 330.5L374.2 330.5L374.8 329.7L372.3 327.9L372.8 327.1L373.6 327.7L374.2 326.9L365.4 320.2L366.0 319.4L366.4 319.7L367.0 319.0L367.0 319.0L367.6 318.2L376.6 325.3L377.2 324.6L373.0 321.2L373.6 320.4L368.0 315.9L368.6 315.1L379.6 324.1L380.2 323.3L380.2 323.3L380.8 322.6L373.7 316.8L374.4 316.1L381.9 322.4L382.5 321.7L372.5 313.2L373.1 312.5L381.6 319.7L382.2 319.0L382.2 319.0L382.9 318.3L382.9 318.3L383.5 317.6L375.0 310.2L375.7 309.4L379.5 312.8L380.1 312.1L380.1 312.1L380.8 311.3L380.8 311.3L381.4 310.6L381.0 310.2L381.6 309.5L377.8 306.0L378.5 305.3L392.5 318.3L393.1 317.7L387.2 312.1L387.8 311.4L387.8 311.4L388.5 310.7L387.2 309.5L387.8 308.8L387.8 308.8L388.5 308.1L388.5 308.1L389.2 307.4L390.7 308.9L391.3 308.3L390.3 307.2L391.0 306.6L391.7 307.3L392.4 306.6L384.7 298.8L385.4 298.1L390.0 302.9L390.7 302.2L390.7 302.2L391.4 301.6L391.4 301.6L392.1 300.9L393.7 302.6L394.4 301.9L393.7 301.1L394.4 300.5L397.2 303.5L397.9 302.9L397.9 302.9L398.6 302.3L395.2 298.5L395.9 297.9L395.9 297.9L396.6 297.2L392.4 292.6L393.2 291.9L392.0 290.6L392.7 289.9L392.9 290.1L393.6 289.4L396.8 293.1L397.6 292.5L401.4 297.0L402.1 296.4L406.0 300.8L406.7 300.2L407.7 301.4L408.4 300.8L405.5 297.5L406.2 296.9L398.0 287.0L398.8 286.3L398.8 286.3L399.6 285.7L399.6 285.7L400.4 285.1L400.8 285.7L401.6 285.1L400.9 284.2L401.7 283.6L401.7 283.6L402.5 282.9L410.7 293.5L411.4 292.9L411.9 293.5L412.6 293.0L405.6 283.8L406.4 283.2L408.6 286.1L409.4 285.5L406.1 281.2L406.9 280.6L406.9 280.6L407.7 280.0L415.2 290.3L416.0 289.7L412.5 284.9L413.2 284.3L413.0 283.9L413.8 283.4L409.9 278.0L410.8 277.4L421.4 292.6L422.2 292.0L422.4 292.4L423.1 291.9L419.3 286.3L420.1 285.8L414.8 278.0L415.6 277.5L419.2 282.9L420.0 282.3L420.0 282.3L420.8 281.8L423.3 285.6L424.1 285.1L416.1 272.9L416.9 272.4L427.3 288.3L428.0 287.9L417.2 271.0L418.1 270.4L425.4 282.0L426.2 281.5L422.7 276.0L423.6 275.5L420.3 270.2L421.1 269.7L421.1 269.7L422.0 269.2L424.0 272.5L424.8 272.0L428.1 277.4L428.9 276.9L431.1 280.7L431.9 280.2L431.9 280.2L432.7 279.7L428.5 272.5L429.4 272.0L429.4 272.0L430.2 271.6L426.7 265.3L427.5 264.8L435.1 278.3L435.9 277.8L438.2 281.9L439.0 281.5L436.6 277.1L437.4 276.7L432.9 268.4L433.7 267.9L438.5 276.9L439.4 276.4L441.2 279.9L442.0 279.5L435.4 267.0L436.3 266.5L436.3 266.5L437.2 266.1L437.9 267.5L438.7 267.0L438.7 267.0L439.6 266.6L440.9 269.2L441.7 268.7L441.7 268.7L442.6 268.3L442.6 268.3L443.4 267.9L445.7 272.6L446.5 272.2L442.3 263.3L443.2 262.9L446.4 269.6L447.2 269.2L447.2 269.2L448.1 268.9L446.2 264.8L447.1 264.4L447.5 265.3L448.4 264.9L447.7 263.4L448.5 263.0L448.5 263.0L449.4 262.6L446.9 256.7L447.8 256.4L451.1 264.0L451.9 263.6L451.9 263.6L452.8 263.2L452.8 263.2L453.7 262.8L453.4 262.0L454.2 261.6L454.2 261.6L455.1 261.3L455.1 261.3L456.0 260.9L458.2 266.5L459.1 266.2L455.1 255.8L456.0 255.5L456.0 255.5L456.9 255.1L460.9 265.8L461.8 265.4L460.6 262.3L461.5 261.9L461.5 261.9L462.4 261.6L463.2 263.8L464.0 263.5L463.8 262.8L464.7 262.5L465.3 264.3L466.2 264.0L465.8 262.9L466.7 262.6L464.8 256.9L465.7 256.5L468.2 264.2L469.1 263.9L469.1 263.9L470.0 263.6L469.7 262.8L470.6 262.5L470.6 262.5L471.5 262.3L471.5 262.3L472.4 262.0L468.0 247.9L469.0 247.6L471.2 254.9L472.1 254.6L474.3 262.0L475.2 261.7L475.2 261.7L476.1 261.5L473.5 252.5L474.4 252.3L474.4 252.3L475.4 252.0L475.9 253.9L476.8 253.7L478.7 260.3L479.5 260.1L479.5 260.1L480.4 259.9L478.6 252.8L479.5 252.6L479.5 252.6L480.5 252.3L483.6 264.9L484.5 264.7L483.1 259.2L484.0 259.0L484.0 259.0L484.9 258.8L481.9 245.8L482.8 245.5L482.8 245.5L483.8 245.3L483.9 245.6L484.8 245.4L484.8 245.4L485.8 245.2L488.1 255.8L489.0 255.6L487.4 248.2L488.4 248.0L488.4 248.0L489.4 247.8L492.4 263.0L493.3 262.8L491.2 251.9L492.1 251.7L492.2 252.2L493.1 252.1L491.4 242.6L492.3 242.4L496.2 263.6L497.0 263.4L495.7 255.5L496.6 255.4L494.1 240.9L495.1 240.7L495.1 240.7L496.1 240.6L499.3 260.9L500.2 260.8L498.4 249.3L499.4 249.1L499.4 249.1L500.3 249.0L499.5 243.1L500.5 243.0L501.6 251.2L502.6 251.1L502.6 251.1L503.5 251.0L504.3 256.9L505.2 256.8L504.3 249.5L505.2 249.3L505.0 247.8L506.0 247.7L506.2 249.3L507.1 249.2L507.1 249.2L508.1 249.1L508.1 249.1L509.0 249.0L510.1 259.9L511.0 259.8L512.1 271.4L513.0 271.3L510.5 244.6L511.5 244.6L511.4 243.1L512.3 243.0L512.5 245.5L513.5 245.4L513.2 240.7L514.1 240.6L515.2 255.1L516.1 255.0L516.0 253.8L516.9 253.7L516.9 253.7L517.9 253.6L517.2 241.3L518.1 241.2L518.1 241.1L519.1 241.0L519.8 254.2L520.7 254.1L520.7 254.0L521.6 254.0L521.6 253.0L522.5 253.0L522.3 248.7L523.3 248.7L523.0 238.8L524.0 238.8L524.0 238.6L525.0 238.5L525.3 252.7L526.2 252.7L526.2 252.7L527.1 252.6L527.0 243.1L528.0 243.1L528.0 243.1L529.0 243.1Z"/>
<circle cx="529.0" cy="445.25" r="191.4" fill="none" stroke="#505050" stroke-width="0.9"/>
<path d="M598.02 121.93L602.15 102.57A350.4 350.4 0 0 1 607.52 103.76L603.09 123.06A330.6 330.6 0 0 0 598.02 121.93ZM849.67 364.82L868.87 360.01A350.4 350.4 0 0 1 870.17 365.35L850.89 369.87A330.6 330.6 0 0 0 849.67 364.82ZM761.67 680.12L775.60 694.19A350.4 350.4 0 0 1 771.66 698.03L757.95 683.74A330.6 330.6 0 0 0 761.67 680.12ZM752.95 688.45L766.36 703.01A350.4 350.4 0 0 1 762.28 706.71L749.10 691.93A330.6 330.6 0 0 0 752.95 688.45ZM747.98 692.93L761.09 707.77A350.4 350.4 0 0 1 756.94 711.38L744.06 696.34A330.6 330.6 0 0 0 747.98 692.93ZM739.06 700.53L751.65 715.82A350.4 350.4 0 0 1 747.37 719.29L735.03 703.80A330.6 330.6 0 0 0 739.06 700.53ZM730.26 707.53L742.31 723.24A350.4 350.4 0 0 1 737.92 726.56L726.11 710.66A330.6 330.6 0 0 0 730.26 707.53ZM720.65 714.63L732.13 730.76A350.4 350.4 0 0 1 727.62 733.92L716.40 717.61A330.6 330.6 0 0 0 720.65 714.63ZM710.31 721.69L721.17 738.25A350.4 350.4 0 0 1 716.55 741.23L705.95 724.51A330.6 330.6 0 0 0 710.31 721.69ZM705.75 724.63L716.34 741.36A350.4 350.4 0 0 1 711.67 744.27L701.34 727.37A330.6 330.6 0 0 0 705.75 724.63ZM695.45 730.89L705.42 748.00A350.4 350.4 0 0 1 700.64 750.73L690.94 733.47A330.6 330.6 0 0 0 695.45 730.89ZM690.74 733.58L700.43 750.85A350.4 350.4 0 0 1 695.60 753.51L686.19 736.09A330.6 330.6 0 0 0 690.74 733.58ZM677.29 740.73L686.17 758.42A350.4 350.4 0 0 1 681.23 760.85L672.63 743.02A330.6 330.6 0 0 0 677.29 740.73ZM672.37 743.15L680.95 760.99A350.4 350.4 0 0 1 675.98 763.34L667.67 745.36A330.6 330.6 0 0 0 672.37 743.15ZM667.41 745.48L675.70 763.46A350.4 350.4 0 0 1 670.68 765.73L662.68 747.62A330.6 330.6 0 0 0 667.41 745.48ZM330.45 709.59L318.56 725.42A350.4 350.4 0 0 1 314.19 722.08L326.33 706.44A330.6 330.6 0 0 0 330.45 709.59ZM323.15 703.94L310.82 719.44A350.4 350.4 0 0 1 306.54 715.98L319.11 700.68A330.6 330.6 0 0 0 323.15 703.94ZM318.94 700.53L306.35 715.82A350.4 350.4 0 0 1 302.13 712.29L314.95 697.20A330.6 330.6 0 0 0 318.94 700.53ZM312.50 695.10L299.53 710.06A350.4 350.4 0 0 1 295.40 706.42L308.60 691.67A330.6 330.6 0 0 0 312.50 695.10ZM287.21 670.72L272.73 684.22A350.4 350.4 0 0 1 269.01 680.17L283.70 666.89A330.6 330.6 0 0 0 287.21 670.72ZM249.62 622.00L232.89 632.59A350.4 350.4 0 0 1 229.98 627.92L246.88 617.59A330.6 330.6 0 0 0 249.62 622.00ZM217.81 556.86L199.17 563.54A350.4 350.4 0 0 1 197.35 558.35L216.09 551.95A330.6 330.6 0 0 0 217.81 556.86ZM216.00 551.68L197.25 558.06A350.4 350.4 0 0 1 195.52 552.83L214.37 546.75A330.6 330.6 0 0 0 216.00 551.68ZM214.28 546.48L195.43 552.54A350.4 350.4 0 0 1 193.79 547.29L212.73 541.52A330.6 330.6 0 0 0 214.28 546.48ZM210.44 533.65L191.36 538.95A350.4 350.4 0 0 1 189.93 533.63L209.09 528.64A330.6 330.6 0 0 0 210.44 533.65ZM252.40 264.18L235.83 253.33A350.4 350.4 0 0 1 238.88 248.75L255.28 259.85A330.6 330.6 0 0 0 252.40 264.18ZM437.71 127.50L432.24 108.47A350.4 350.4 0 0 1 437.54 107.00L442.71 126.11A330.6 330.6 0 0 0 437.71 127.50Z" fill="#1b2b82"/>
<path d="M449.36 124.39L444.39 104.39A351.2 351.2 0 0 1 565.65 95.97L563.50 116.46A330.6 330.6 0 0 0 449.36 124.39Z" fill="#ffb4ff" stroke="#000" stroke-width="0.7" stroke-linejoin="miter"/>
<path d="M611.44 125.09L616.58 105.14A351.2 351.2 0 0 1 739.03 163.78L726.71 180.29A330.6 330.6 0 0 0 611.44 125.09Z" fill="#c6fa28" stroke="#000" stroke-width="0.7" stroke-linejoin="miter"/>
<path d="M748.32 197.87L761.99 182.46A351.2 351.2 0 0 1 851.00 305.04L832.11 313.26A330.6 330.6 0 0 0 748.32 197.87Z" fill="#ffec00" stroke="#000" stroke-width="0.7" stroke-linejoin="miter"/>
<path d="M832.11 313.26L851.00 305.04A351.2 351.2 0 0 1 858.43 323.52L839.11 330.66A330.6 330.6 0 0 0 832.11 313.26Z" fill="#ffec00" stroke="#000" stroke-width="0.7" stroke-linejoin="miter"/>
<path d="M852.17 375.56L872.31 371.21A351.2 351.2 0 0 1 879.77 427.91L859.20 428.93A330.6 330.6 0 0 0 852.17 375.56Z" fill="#ffb4ff" stroke="#000" stroke-width="0.7" stroke-linejoin="miter"/>
<path d="M859.60 445.88L880.20 445.92A351.2 351.2 0 0 1 874.03 510.82L853.79 506.97A330.6 330.6 0 0 0 859.60 445.88Z" fill="#a6289a" stroke="#000" stroke-width="0.7" stroke-linejoin="miter"/>
<path d="M850.68 521.53L870.72 526.28A351.2 351.2 0 0 1 867.28 539.64L847.44 534.10A330.6 330.6 0 0 0 850.68 521.53Z" fill="#9aba18" stroke="#000" stroke-width="0.7" stroke-linejoin="miter"/>
<path d="M843.24 547.96L862.82 554.36A351.2 351.2 0 0 1 851.82 583.55L832.89 575.43A330.6 330.6 0 0 0 843.24 547.96Z" fill="#ffec00" stroke="#000" stroke-width="0.7" stroke-linejoin="miter"/>
<path d="M832.89 575.43L851.82 583.55A351.2 351.2 0 0 1 781.29 689.57L766.49 675.24A330.6 330.6 0 0 0 832.89 575.43Z" fill="#ffec00" stroke="#000" stroke-width="0.7" stroke-linejoin="miter"/>
<path d="M660.99 748.36L669.21 767.25A351.2 351.2 0 0 1 328.67 733.71L340.42 716.79A330.6 330.6 0 0 0 660.99 748.36Z" fill="#e2001a" stroke="#000" stroke-width="0.7" stroke-linejoin="miter"/>
<path d="M617.13 763.89L622.62 783.74A351.2 351.2 0 0 1 518.58 796.30L519.19 775.70A330.6 330.6 0 0 0 617.13 763.89Z" fill="#d9a870" stroke="#000" stroke-width="0.7" stroke-linejoin="miter"/>
<path d="M283.70 666.89L268.42 680.70A351.2 351.2 0 0 1 236.99 640.37L254.12 628.92A330.6 330.6 0 0 0 283.70 666.89Z" fill="#ffec00" stroke="#000" stroke-width="0.7" stroke-linejoin="miter"/>
<path d="M244.38 613.44L226.65 623.92A351.2 351.2 0 0 1 200.17 568.59L219.46 561.35A330.6 330.6 0 0 0 244.38 613.44Z" fill="#ffb4ff" stroke="#000" stroke-width="0.7" stroke-linejoin="miter"/>
<path d="M207.87 523.83L187.86 528.73A351.2 351.2 0 0 1 178.94 417.02L199.47 418.68A330.6 330.6 0 0 0 207.87 523.83Z" fill="#e2001a" stroke="#000" stroke-width="0.7" stroke-linejoin="miter"/>
<path d="M208.29 364.99L188.31 359.99A351.2 351.2 0 0 1 190.09 353.17L209.97 358.57A330.6 330.6 0 0 0 208.29 364.99Z" fill="#a6289a" stroke="#000" stroke-width="0.7" stroke-linejoin="miter"/>
<path d="M211.06 354.62L191.25 348.98A351.2 351.2 0 0 1 212.25 293.56L230.83 302.45A330.6 330.6 0 0 0 211.06 354.62Z" fill="#9aba18" stroke="#000" stroke-width="0.7" stroke-linejoin="miter"/>
<path d="M235.14 293.77L216.83 284.34A351.2 351.2 0 0 1 221.60 275.41L239.63 285.38A330.6 330.6 0 0 0 235.14 293.77Z" fill="#9aba18" stroke="#000" stroke-width="0.7" stroke-linejoin="miter"/>
<path d="M258.82 254.73L241.98 242.86A351.2 351.2 0 0 1 319.16 163.63L331.47 180.15A330.6 330.6 0 0 0 258.82 254.73Z" fill="#ffec00" stroke="#000" stroke-width="0.7" stroke-linejoin="miter"/>
<path d="M342.94 171.98L331.34 154.95A351.2 351.2 0 0 1 406.24 116.20L413.44 135.51A330.6 330.6 0 0 0 342.94 171.98Z" fill="#ffec00" stroke="#000" stroke-width="0.7" stroke-linejoin="miter"/>
<circle cx="529.0" cy="445.25" r="329.45" fill="none" stroke="#000" stroke-width="2.9"/>
<g id="txt" style="filter:grayscale(1)">
<text x="498.81" y="73.57" font-size="25" text-anchor="middle" transform="rotate(84.89 498.81 64.57)">cox1</text>
<text x="694.16" y="115.92" font-size="25" text-anchor="middle" transform="rotate(-62.99 694.16 106.92)">cob</text>
<text x="841.46" y="228.73" font-size="25" text-anchor="middle" transform="rotate(-35.72 841.46 219.73)">nad5</text>
<text x="892.56" y="307.72" font-size="25" text-anchor="middle" transform="rotate(-22.64 892.56 298.72)">nad4L</text>
<text x="910.10" y="405.40" font-size="25" text-anchor="middle" transform="rotate(-8.37 910.10 396.40)">cox2</text>
<text x="947.34" y="495.53" font-size="25" text-anchor="middle" transform="rotate(3.99 947.34 486.53)">TsiG_giy_2</text>
<text x="899.80" y="546.20" font-size="25" text-anchor="middle" transform="rotate(14.19 899.80 537.20)">atp9</text>
<text x="889.13" y="590.90" font-size="25" text-anchor="middle" transform="rotate(21.06 889.13 581.90)">nad3</text>
<text x="853.48" y="662.84" font-size="25" text-anchor="middle" transform="rotate(31.41 853.48 653.84)">nad2</text>
<text x="473.92" y="822.44" font-size="25" text-anchor="middle" transform="rotate(-81.47 473.92 813.44)">rnl</text>
<text x="578.43" y="834.12" font-size="25" text-anchor="middle" transform="rotate(81.60 578.43 825.12)">rps3</text>
<text x="183.59" y="618.87" font-size="25" text-anchor="middle" transform="rotate(-26.03 183.59 609.87)">cox3</text>
<text x="225.72" y="693.43" font-size="25" text-anchor="middle" transform="rotate(-39.16 225.72 684.43)">nad6</text>
<text x="156.69" y="487.22" font-size="25" text-anchor="middle" transform="rotate(-5.97 156.69 478.22)">rns</text>
<text x="126.15" y="352.69" font-size="25" text-anchor="middle" transform="rotate(12.49 126.15 343.69)">TsiG_giy_1</text>
<text x="173.86" y="317.30" font-size="25" text-anchor="middle" transform="rotate(19.41 173.86 308.30)">atp6</text>
<text x="191.63" y="274.99" font-size="25" text-anchor="middle" transform="rotate(26.79 191.63 265.99)">atp8</text>
<text x="254.54" y="182.18" font-size="25" text-anchor="middle" transform="rotate(45.24 254.54 173.18)">nad4</text>
<text x="349.92" y="116.06" font-size="25" text-anchor="middle" transform="rotate(61.50 349.92 107.06)">nad1</text>
<text x="526.2" y="436.2" font-size="25" font-style="italic" text-anchor="middle">Trichoderma simmonsii</text>
<text x="525.5" y="467" font-size="25" text-anchor="middle" xml:space="preserve">TsiG   28,668 bp</text>
<text x="55.4" y="891.10" font-size="19.8">complex I (NADH dehydrogenase)</text>
<text x="55.4" y="912.30" font-size="19.8">complex III (ubichinol cytochrome c reductase)</text>
<text x="55.4" y="933.50" font-size="19.8">complex IV (cytochrome c oxidase)</text>
<text x="55.4" y="954.70" font-size="19.8">ATP synthase</text>
<text x="55.4" y="975.90" font-size="19.8">ribosomal proteins (SSU)</text>
<text x="55.4" y="997.10" font-size="19.8">other genes</text>
<text x="55.4" y="1018.30" font-size="19.8">transfer RNAs</text>
<text x="55.4" y="1039.50" font-size="19.8">ribosomal RNAs</text>
</g>
<rect x="35" y="877.20" width="15.4" height="14.7" fill="#ffec00" stroke="#000" stroke-width="1.4"/>
<rect x="35" y="898.40" width="15.4" height="14.7" fill="#c6fa28" stroke="#000" stroke-width="1.4"/>
<rect x="35" y="919.60" width="15.4" height="14.7" fill="#ffb4ff" stroke="#000" stroke-width="1.4"/>
<rect x="35" y="940.80" width="15.4" height="14.7" fill="#9aba18" stroke="#000" stroke-width="1.4"/>
<rect x="35" y="962.00" width="15.4" height="14.7" fill="#d9a870" stroke="#000" stroke-width="1.4"/>
<rect x="35" y="983.20" width="15.4" height="14.7" fill="#a6289a" stroke="#000" stroke-width="1.4"/>
<rect x="35" y="1004.40" width="15.4" height="14.7" fill="#1b2b82" stroke="#000" stroke-width="1.4"/>
<rect x="35" y="1025.60" width="15.4" height="14.7" fill="#e2001a" stroke="#000" stroke-width="1.4"/>
</svg></body></html>
